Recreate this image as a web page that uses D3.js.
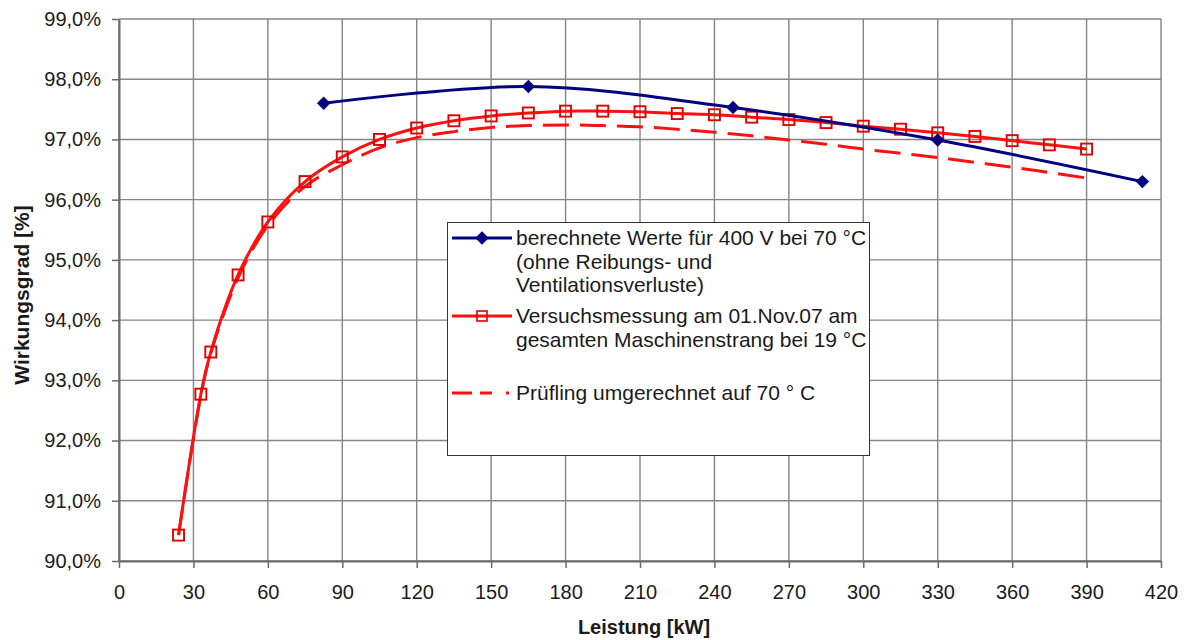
<!DOCTYPE html>
<html>
<head>
<meta charset="utf-8">
<script src="https://cdn.jsdelivr.net/npm/d3@7"></script>
<style>
  body { margin: 0; background: #fff; }
  svg { display: block; }
  text { font-family: "Liberation Sans", Arial, Helvetica, sans-serif; fill: #1a1a1a; }
</style>
</head>
<body>
<svg id="chart" width="1193" height="640"></svg>
<script>
// Axis ticks
const xTicks = [0, 30, 60, 90, 120, 150, 180, 210, 240, 270, 300, 330, 360, 390, 420];
const yTicks = [90, 91, 92, 93, 94, 95, 96, 97, 98, 99];

// Calculated efficiency, 400 V at 70 °C (no friction / windage losses)
const calcLoad = [82.5, 165, 247.5, 330, 412.5];
const calcEff  = [97.60, 97.88, 97.53, 96.99, 96.30];

// Test run on the whole machine train, 01 Nov 07 at 19 °C
const measLoad = [24, 33, 37, 48, 60, 75, 90, 105, 120, 135, 150, 165, 180, 195,
                  210, 225, 240, 255, 270, 285, 300, 315, 330, 345, 360, 375, 390];
const measEff  = [90.43, 92.77, 93.47, 94.75, 95.63, 96.30, 96.71, 97.00, 97.19, 97.31,
                  97.39, 97.44, 97.47, 97.47, 97.46, 97.43, 97.41, 97.37, 97.33, 97.28,
                  97.22, 97.17, 97.11, 97.05, 96.98, 96.91, 96.84];

// Test object converted to 70 °C
const convEff  = [90.43, 92.75, 93.45, 94.70, 95.57, 96.22, 96.58, 96.86, 97.03, 97.13,
                  97.20, 97.23, 97.24, 97.23, 97.21, 97.17, 97.12, 97.06, 96.99, 96.92,
                  96.84, 96.77, 96.70, 96.62, 96.54, 96.45, 96.36];

const legendCalc = ["berechnete Werte für 400 V bei 70 °C", "(ohne Reibungs- und", "Ventilationsverluste)"];
const legendMeas = ["Versuchsmessung am 01.Nov.07 am", "gesamten Maschinenstrang bei 19 °C"];
const legendConv = ["Prüfling umgerechnet auf 70 ° C"];

const xTitle = "Leistung [kW]";
const yTitle = "Wirkungsgrad [%]";

const BLUE = "#000080";
const RED = "#ff1010";
const GRID = "#858585";
const AXIS = "#6a6a6a";

const svg = d3.select("#chart");
const x = d3.scaleLinear().domain([0, 420]).range([119, 1161]);
const y = d3.scaleLinear().domain([90, 99]).range([561, 19]);

// Grid
const grid = svg.append("g");
grid.selectAll("line.h").data(yTicks).join("line")
  .attr("x1", x(0)).attr("x2", x(420))
  .attr("y1", d => y(d)).attr("y2", d => y(d))
  .attr("stroke", GRID).attr("stroke-width", 1.4);
grid.selectAll("line.v").data(xTicks).join("line")
  .attr("y1", y(90)).attr("y2", y(99))
  .attr("x1", d => x(d)).attr("x2", d => x(d))
  .attr("stroke", GRID).attr("stroke-width", 1.4);

// Axes
const fmtPct = d => d.toFixed(1).replace(".", ",") + "%";
const yAxis = svg.append("g").attr("transform", `translate(${x(0)},0)`)
  .call(d3.axisLeft(y).tickValues(yTicks).tickFormat(fmtPct).tickSize(7).tickSizeOuter(0).tickPadding(11));
const xAxis = svg.append("g").attr("transform", `translate(0,${y(90)})`)
  .call(d3.axisBottom(x).tickValues(xTicks).tickFormat(d3.format("d")).tickSize(7).tickSizeOuter(0).tickPadding(17));
[yAxis, xAxis].forEach(a => {
  a.select(".domain").attr("stroke", AXIS).attr("stroke-width", 2);
  a.selectAll(".tick line").attr("stroke", AXIS).attr("stroke-width", 1.5);
  a.selectAll(".tick text").attr("font-size", 20).attr("fill", "#1a1a1a")
    .style("font-family", "'Liberation Sans', Arial, sans-serif");
});

// Series
const curve = d3.curveCatmullRom.alpha(0.5);
const line = d3.line().x(d => x(d[0])).y(d => y(d[1])).curve(curve);
const calcPts = calcLoad.map((l, i) => [l, calcEff[i]]);
const measPts = measLoad.map((l, i) => [l, measEff[i]]);
const convPts = measLoad.map((l, i) => [l, convEff[i]]);

svg.append("path").datum(convPts).attr("d", line)
  .attr("fill", "none").attr("stroke", RED).attr("stroke-width", 3)
  .attr("stroke-dasharray", "26,11");

svg.append("path").datum(measPts).attr("d", line)
  .attr("fill", "none").attr("stroke", RED).attr("stroke-width", 3);
svg.append("g").selectAll("rect").data(measPts).join("rect")
  .attr("x", d => x(d[0]) - 5.5).attr("y", d => y(d[1]) - 5.5)
  .attr("width", 11).attr("height", 11)
  .attr("fill", "none").attr("stroke", "#e00000").attr("stroke-width", 1.9);

svg.append("path").datum(calcPts).attr("d", line)
  .attr("fill", "none").attr("stroke", BLUE).attr("stroke-width", 3);
const diamond = d3.symbol().type(d3.symbolDiamond2).size(115);
svg.append("g").selectAll("path").data(calcPts).join("path")
  .attr("d", diamond)
  .attr("transform", d => `translate(${x(d[0])},${y(d[1])})`)
  .attr("fill", BLUE);

// Legend
const lg = svg.append("g");
lg.append("rect").attr("x", 447.5).attr("y", 222.5).attr("width", 422).attr("height", 233)
  .attr("fill", "#fff").attr("stroke", "#333").attr("stroke-width", 1);

const textX = 516, fs = 21, lh = 23.5;
function legendText(lines, baseY) {
  const t = lg.append("text").attr("x", textX).attr("y", baseY).attr("font-size", fs);
  lines.forEach((s, i) => t.append("tspan").attr("x", textX).attr("dy", i === 0 ? 0 : lh).text(s));
}
// calculated
lg.append("line").attr("x1", 452).attr("x2", 512).attr("y1", 238).attr("y2", 238)
  .attr("stroke", BLUE).attr("stroke-width", 3);
lg.append("path").attr("d", diamond).attr("transform", "translate(482,238)").attr("fill", BLUE);
legendText(legendCalc, 245);
// measured
lg.append("line").attr("x1", 452).attr("x2", 512).attr("y1", 316).attr("y2", 316)
  .attr("stroke", RED).attr("stroke-width", 3);
lg.append("rect").attr("x", 477).attr("y", 311).attr("width", 10).attr("height", 10)
  .attr("fill", "none").attr("stroke", "#e00000").attr("stroke-width", 1.6);
legendText(legendMeas, 323);
// converted
lg.append("line").attr("x1", 452).attr("x2", 512).attr("y1", 393).attr("y2", 393)
  .attr("stroke", RED).attr("stroke-width", 3).attr("stroke-dasharray", "20,8,12,14,3,20");
legendText(legendConv, 400);

// Axis titles
svg.append("text").attr("x", 644).attr("y", 634).attr("text-anchor", "middle")
  .attr("font-size", 20).attr("font-weight", "bold").text(xTitle);
svg.append("text").attr("transform", "translate(29,295) rotate(-90)").attr("text-anchor", "middle")
  .attr("font-size", 21).attr("font-weight", "bold").text(yTitle);
</script>
</body>
</html>
